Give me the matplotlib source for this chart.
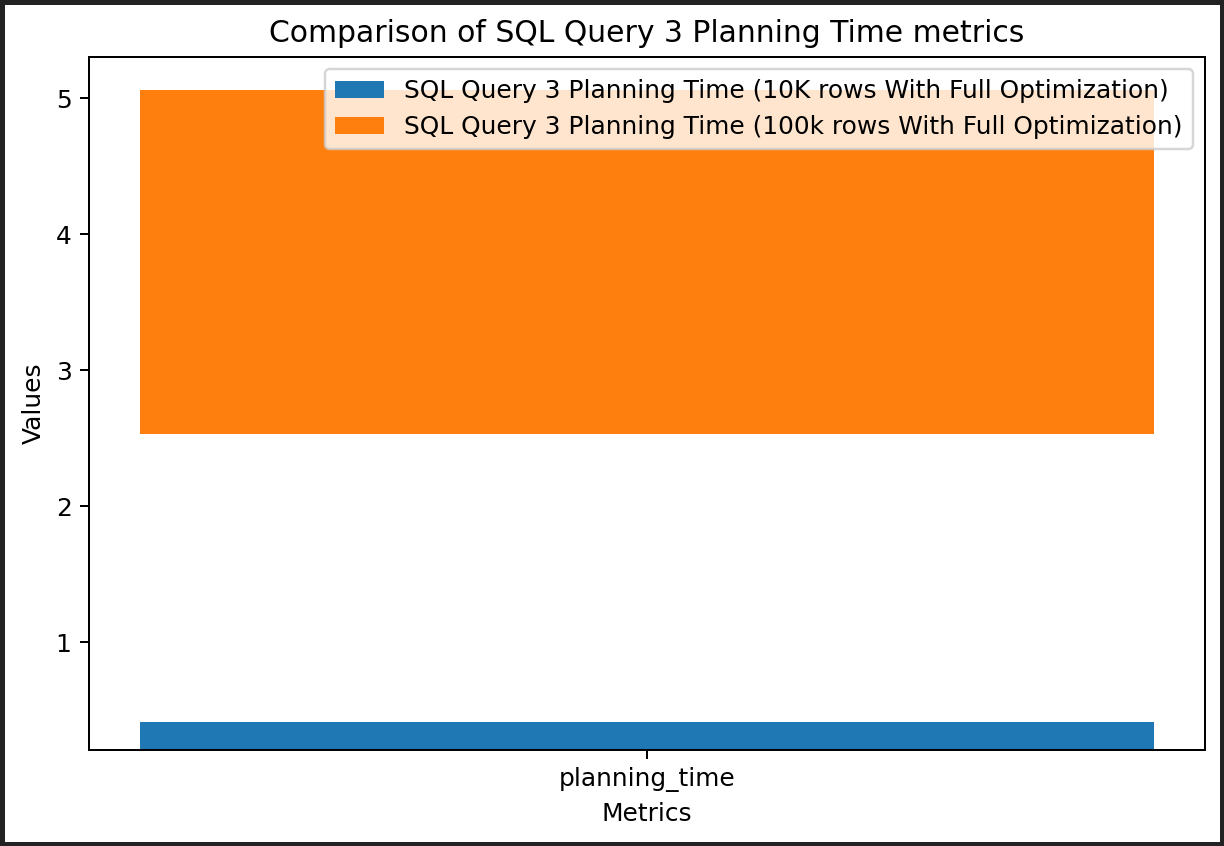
import matplotlib
matplotlib.use("Agg")
import matplotlib.pyplot as plt
import numpy as np

metrics = ["planning_time"]
series_labels = [
    "SQL Query 3 Planning Time (10K rows With Full Optimization)",
    "SQL Query 3 Planning Time (100k rows With Full Optimization)",
]
values_10k = [0.207]
values_100k = [2.531]

DPI = 179
fig = plt.figure(figsize=(1224 / DPI, 846 / DPI), dpi=DPI)
fig.patch.set_edgecolor("#222222")
fig.patch.set_linewidth(3)
ax = fig.add_axes([0.0727, 0.1135, 0.9118, 0.8195])

x = np.arange(len(metrics))
ax.bar(x, values_10k, 0.8, bottom=values_10k, label=series_labels[0], color="#1f77b4")
ax.bar(x, values_100k, 0.8, bottom=values_100k, label=series_labels[1], color="#ff7f0e")

ax.set_xticks(x)
ax.set_xticklabels(metrics)
ax.set_xlabel("Metrics")
ax.set_ylabel("Values")
ax.set_title("Comparison of SQL Query 3 Planning Time metrics")
ax.legend(loc="upper right")

fig.savefig("out.png", dpi=DPI, edgecolor=fig.get_edgecolor())
